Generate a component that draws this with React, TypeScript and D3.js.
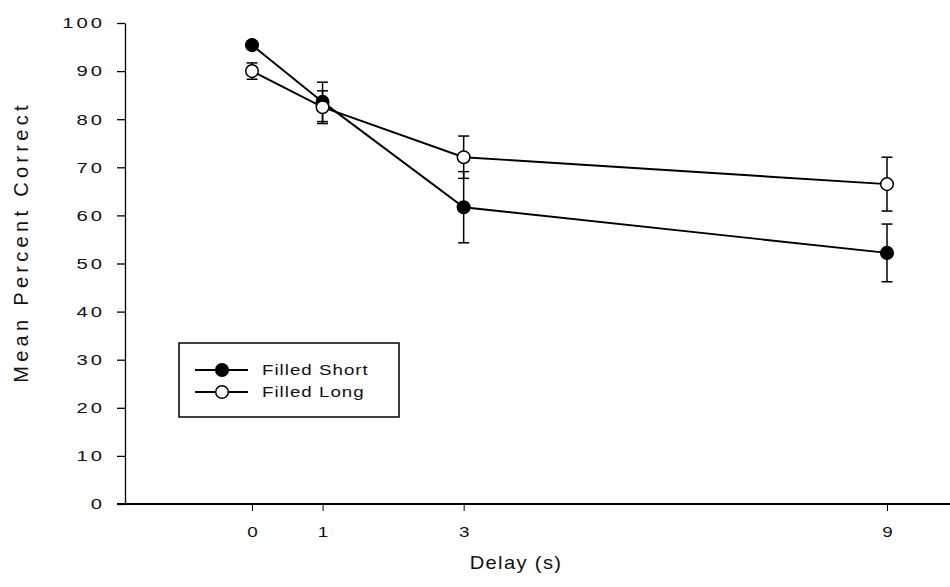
import React, { useEffect, useRef } from "react";
import * as d3 from "d3";

// delay in seconds
const delays = [0, 1, 3, 9];

// Filled Short (filled circles)
const shortMeans = [95.4, 83.6, 61.7, 52.2];
const shortErr = [0.8, 4.1, 7.4, 6.0];

// Filled Long (open circles)
const longMeans = [90.0, 82.5, 72.1, 66.5];
const longErr = [1.7, 3.4, 4.4, 5.6];

const yTicks = [0, 10, 20, 30, 40, 50, 60, 70, 80, 90, 100];
const xTicks = [0, 1, 3, 9];

const seriesNames = ["Filled Short", "Filled Long"];

const App = () => {
  const chartRef = useRef<HTMLDivElement>(null);

  useEffect(() => {
    document.body.style.margin = "0";
    const element = chartRef.current;
    if (!element) return;
    const width = 950;
    const height = 587;
    const font = "'Liberation Sans', Arial, sans-serif";
    const SX = 1.35; // the scanned figure's text is wide

    d3.select(element).select("svg").remove();
    const svg = d3
      .select(element)
      .append("svg")
      .attr("width", width)
      .attr("height", height)
      .style("display", "block")
      .style("background", "#fff");

    const x = d3.scaleLinear().domain([0, 9]).range([252, 887]);
    const y = d3.scaleLinear().domain([0, 100]).range([504, 23]);
    const axisX = 125;

    // y axis
    const yAxis = svg
      .append("g")
      .attr("transform", `translate(${axisX},0)`)
      .call(d3.axisLeft(y).tickValues(yTicks).tickSize(8).tickSizeOuter(0));
    yAxis.select(".domain").attr("stroke-width", 1.3);
    yAxis.selectAll(".tick line").attr("stroke-width", 1.3);
    yAxis
      .selectAll("text")
      .attr("x", null)
      .attr("transform", `translate(-20,0) scale(${SX},1)`)
      .style("font-family", font)
      .style("font-size", "15px")
      .style("letter-spacing", "2.2px")
      .attr("fill", "#111");

    // x axis
    const xAxis = svg
      .append("g")
      .attr("transform", `translate(0,${y(0)})`)
      .call(d3.axisBottom(x).tickValues(xTicks).tickSize(7));
    xAxis.select(".domain").remove();
    xAxis
      .append("line")
      .attr("x1", axisX - 8)
      .attr("x2", width)
      .attr("stroke", "#000")
      .attr("stroke-width", 2);
    xAxis
      .selectAll("text")
      .attr("y", null)
      .attr("transform", `translate(0,23) scale(${SX},1)`)
      .style("font-family", font)
      .style("font-size", "14px")
      .attr("fill", "#111");

    // axis titles
    svg
      .append("text")
      .attr("transform", `translate(516,569) scale(1.12,1)`)
      .attr("text-anchor", "middle")
      .style("font-family", font)
      .style("font-size", "18px")
      .style("letter-spacing", "1.2px")
      .attr("fill", "#111")
      .text("Delay (s)");

    svg
      .append("text")
      .attr("transform", `translate(28,242) rotate(-90)`)
      .attr("text-anchor", "middle")
      .style("font-family", font)
      .style("font-size", "20px")
      .style("letter-spacing", "4.3px")
      .attr("fill", "#111")
      .text("Mean Percent Correct");

    const series = [
      { name: seriesNames[0], means: shortMeans, err: shortErr, fill: "#000" },
      { name: seriesNames[1], means: longMeans, err: longErr, fill: "#fff" },
    ];

    const line = d3
      .line<number>()
      .x((d, i) => x(delays[i]))
      .y((d) => y(d));

    series.forEach((s) => {
      const g = svg.append("g");
      g.append("path")
        .attr("d", line(s.means))
        .attr("fill", "none")
        .attr("stroke", "#000")
        .attr("stroke-width", 1.9);

      const bars = g
        .selectAll(".err")
        .data(s.means)
        .enter()
        .append("g")
        .attr("stroke", "#000")
        .attr("stroke-width", 1.5);
      bars
        .append("line")
        .attr("x1", (d, i) => x(delays[i]))
        .attr("x2", (d, i) => x(delays[i]))
        .attr("y1", (d, i) => y(d + s.err[i]))
        .attr("y2", (d, i) => y(d - s.err[i]));
      [1, -1].forEach((sign) => {
        bars
          .append("line")
          .attr("x1", (d, i) => x(delays[i]) - 5.5)
          .attr("x2", (d, i) => x(delays[i]) + 5.5)
          .attr("y1", (d, i) => y(d + sign * s.err[i]))
          .attr("y2", (d, i) => y(d + sign * s.err[i]));
      });

      g.selectAll("circle")
        .data(s.means)
        .enter()
        .append("circle")
        .attr("cx", (d, i) => x(delays[i]))
        .attr("cy", (d) => y(d))
        .attr("r", 6.3)
        .attr("fill", s.fill)
        .attr("stroke", "#000")
        .attr("stroke-width", 1.5);
    });

    // legend
    const legend = svg.append("g").attr("transform", "translate(179,343)");
    legend
      .append("rect")
      .attr("width", 220)
      .attr("height", 74)
      .attr("fill", "#fff")
      .attr("stroke", "#000")
      .attr("stroke-width", 1.5);
    const entries = legend
      .selectAll(".legend-entry")
      .data(series)
      .enter()
      .append("g")
      .attr("transform", (d, i) => `translate(0,${27 + i * 22})`);
    entries
      .append("line")
      .attr("x1", 16)
      .attr("x2", 69)
      .attr("stroke", "#000")
      .attr("stroke-width", 1.9);
    entries
      .append("circle")
      .attr("cx", 43)
      .attr("r", 6.3)
      .attr("fill", (d) => d.fill)
      .attr("stroke", "#000")
      .attr("stroke-width", 1.5);
    entries
      .append("text")
      .attr("transform", `translate(83,0) scale(1.25,1)`)
      .attr("dy", "0.36em")
      .style("font-family", font)
      .style("font-size", "15px")
      .style("letter-spacing", "0.8px")
      .attr("fill", "#111")
      .text((d) => d.name);
  }, []);

  return <div ref={chartRef}></div>;
};

export default App;
